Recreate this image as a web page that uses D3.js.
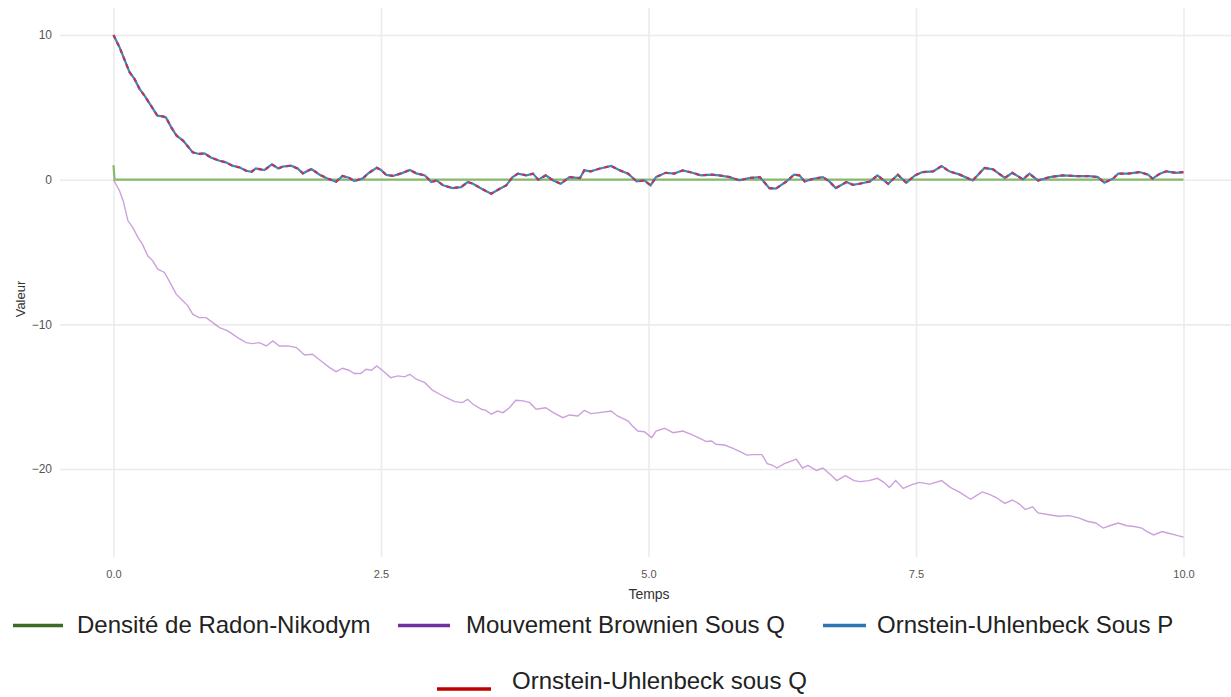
<!DOCTYPE html>
<html>
<head>
<meta charset="utf-8">
<script src="https://cdn.jsdelivr.net/npm/d3@7"></script>
<style>
  body { margin: 0; background: #fff; }
  svg { display: block; }
</style>
</head>
<body>
<div id="chart-container"></div>
<script>
// values, [temps, valeur]
var densityPoints = [[0, 1.0], [0.01, 0.0], [10, 0.0]];

var brownianPoints = [
  [0, 0], [0.056, -0.76], [0.09, -1.45], [0.135, -2.84], [0.18, -3.30], [0.228, -3.99], [0.27, -4.45],
  [0.32, -5.26], [0.367, -5.61], [0.414, -6.18], [0.476, -6.41], [0.52, -6.99], [0.586, -7.91], [0.648, -8.37],
  [0.695, -8.72], [0.74, -9.29], [0.80, -9.53], [0.866, -9.53], [0.928, -9.88], [0.99, -10.22], [1.068, -10.45],
  [1.16, -10.91], [1.24, -11.26], [1.30, -11.33], [1.365, -11.26], [1.427, -11.49], [1.49, -11.14], [1.55, -11.49],
  [1.63, -11.49], [1.71, -11.60], [1.785, -12.12], [1.86, -12.06], [1.94, -12.53], [2.02, -12.99], [2.08, -13.27],
  [2.14, -13.03], [2.20, -13.17], [2.25, -13.40], [2.31, -13.40], [2.36, -13.10], [2.41, -13.17], [2.46, -12.87],
  [2.52, -13.22], [2.59, -13.68], [2.66, -13.56], [2.72, -13.63], [2.77, -13.45], [2.83, -13.79], [2.91, -14.03],
  [2.98, -14.55], [3.05, -14.83], [3.11, -15.07], [3.19, -15.34], [3.26, -15.41], [3.31, -15.18], [3.36, -15.52],
  [3.44, -15.87], [3.48, -15.94], [3.53, -16.21], [3.59, -15.99], [3.64, -16.10], [3.70, -15.76], [3.76, -15.25],
  [3.83, -15.29], [3.89, -15.41], [3.95, -15.87], [4.04, -15.76], [4.11, -16.10], [4.20, -16.45], [4.26, -16.26],
  [4.34, -16.33], [4.40, -15.94], [4.46, -16.17], [4.54, -16.10], [4.65, -15.99], [4.71, -16.33], [4.81, -16.68],
  [4.85, -17.02], [4.90, -17.37], [4.96, -17.42], [5.03, -17.83], [5.07, -17.37], [5.15, -17.18], [5.23, -17.49],
  [5.32, -17.37], [5.40, -17.60], [5.48, -17.88], [5.54, -18.10], [5.59, -18.06], [5.63, -18.29], [5.71, -18.34],
  [5.79, -18.57], [5.86, -18.81], [5.92, -19.04], [5.98, -19.00], [6.06, -19.00], [6.11, -19.63], [6.16, -19.74],
  [6.20, -19.93], [6.27, -19.63], [6.31, -19.52], [6.38, -19.32], [6.44, -19.93], [6.49, -19.74], [6.57, -20.10],
  [6.63, -19.93], [6.71, -20.45], [6.76, -20.80], [6.84, -20.45], [6.92, -20.80], [6.98, -20.87], [7.06, -20.80],
  [7.14, -20.64], [7.20, -20.92], [7.25, -21.27], [7.31, -20.80], [7.38, -21.34], [7.45, -21.11], [7.53, -20.92],
  [7.63, -21.04], [7.74, -20.80], [7.82, -21.27], [7.91, -21.62], [8.01, -22.09], [8.06, -21.85], [8.12, -21.58],
  [8.18, -21.74], [8.25, -21.97], [8.33, -22.37], [8.40, -22.14], [8.47, -22.44], [8.52, -22.80], [8.59, -22.61],
  [8.64, -23.03], [8.73, -23.14], [8.83, -23.26], [8.93, -23.22], [9.02, -23.38], [9.10, -23.61], [9.18, -23.73],
  [9.25, -24.08], [9.31, -23.92], [9.39, -23.73], [9.47, -23.92], [9.54, -23.97], [9.61, -24.08], [9.66, -24.32],
  [9.72, -24.55], [9.80, -24.32], [9.86, -24.44], [9.92, -24.55], [10.0, -24.71]
];

var ouPPoints = [
  [0, 10.0], [0.056, 9.16], [0.10, 8.35], [0.15, 7.43], [0.196, 6.97], [0.243, 6.28], [0.29, 5.81], [0.35, 5.12],
  [0.41, 4.43], [0.46, 4.38], [0.49, 4.31], [0.54, 3.62], [0.59, 3.04], [0.65, 2.70], [0.69, 2.35], [0.74, 1.89],
  [0.80, 1.78], [0.85, 1.82], [0.91, 1.54], [0.99, 1.31], [1.05, 1.20], [1.11, 0.97], [1.18, 0.85], [1.24, 0.62],
  [1.29, 0.55], [1.33, 0.78], [1.41, 0.67], [1.48, 1.06], [1.54, 0.78], [1.58, 0.90], [1.66, 0.97], [1.72, 0.78],
  [1.77, 0.44], [1.85, 0.74], [1.93, 0.33], [2.00, 0.09], [2.08, -0.14], [2.14, 0.26], [2.20, 0.14], [2.25, -0.09],
  [2.33, 0.09], [2.38, 0.44], [2.46, 0.83], [2.50, 0.67], [2.55, 0.33], [2.61, 0.26], [2.69, 0.44], [2.77, 0.67],
  [2.83, 0.44], [2.91, 0.30], [2.97, -0.16], [3.02, -0.05], [3.08, -0.39], [3.17, -0.58], [3.25, -0.51], [3.31, -0.16],
  [3.36, -0.28], [3.44, -0.62], [3.53, -0.97], [3.61, -0.62], [3.67, -0.39], [3.73, 0.18], [3.78, 0.42], [3.86, 0.30],
  [3.92, 0.42], [3.97, 0.00], [4.04, 0.30], [4.11, -0.05], [4.18, -0.28], [4.26, 0.18], [4.36, 0.12], [4.40, 0.65],
  [4.46, 0.58], [4.54, 0.76], [4.65, 0.95], [4.73, 0.65], [4.81, 0.42], [4.89, -0.12], [4.96, -0.05], [5.02, -0.39],
  [5.07, 0.18], [5.16, 0.48], [5.24, 0.42], [5.32, 0.65], [5.41, 0.48], [5.49, 0.30], [5.59, 0.35], [5.66, 0.30],
  [5.76, 0.18], [5.85, -0.05], [5.94, 0.12], [6.04, 0.18], [6.13, -0.58], [6.19, -0.62], [6.29, -0.12], [6.36, 0.35],
  [6.41, 0.30], [6.46, -0.12], [6.54, 0.07], [6.63, 0.18], [6.69, -0.12], [6.75, -0.58], [6.85, -0.16], [6.91, -0.35],
  [6.97, -0.28], [7.07, -0.12], [7.14, 0.30], [7.24, -0.28], [7.33, 0.35], [7.41, -0.21], [7.49, 0.30], [7.56, 0.53],
  [7.66, 0.58], [7.74, 0.95], [7.81, 0.58], [7.91, 0.35], [8.03, -0.05], [8.14, 0.81], [8.22, 0.72], [8.33, 0.12],
  [8.40, 0.48], [8.50, 0.02], [8.56, 0.42], [8.64, -0.05], [8.75, 0.18], [8.87, 0.30], [9.00, 0.25], [9.12, 0.25],
  [9.20, 0.18], [9.26, -0.21], [9.34, 0.07], [9.39, 0.42], [9.48, 0.42], [9.59, 0.53], [9.67, 0.35], [9.71, 0.07],
  [9.78, 0.42], [9.84, 0.58], [9.93, 0.48], [10.0, 0.53]
];
// under Q the path lies on top of the P path in the picture
var ouQPoints = ouPPoints.slice();

var xTicks = [0, 2.5, 5, 7.5, 10];
var yTicks = [-20, -10, 0, 10];

var legendNames = ["Densité de Radon-Nikodym", "Mouvement Brownien Sous Q", "Ornstein-Uhlenbeck Sous P", "Ornstein-Uhlenbeck sous Q"];
var legendColors = ["#3d6b26", "#7030a0", "#2e75b6", "#c00000"];

var svgWidth = 1231;
var svgHeight = 697;
var panel = { left: 60, right: 1237, top: 8, bottom: 557 };

var svg = d3.select("#chart-container").append("svg")
    .attr("width", svgWidth)
    .attr("height", svgHeight)
    .style("font-family", "'Liberation Sans', Arial, sans-serif");

var xScale = d3.scaleLinear().domain([-0.5, 10.5]).range([panel.left, panel.right]);
var yScale = d3.scaleLinear().domain([-26.08, 11.87]).range([panel.bottom, panel.top]);

// grid + tick labels
var xAxis = svg.append("g")
    .attr("transform", "translate(0," + panel.bottom + ")")
    .call(d3.axisBottom(xScale).tickValues(xTicks).tickFormat(d3.format(".1f"))
        .tickSize(-(panel.bottom - panel.top)).tickPadding(13));
xAxis.select(".domain").remove();
xAxis.selectAll("line").attr("stroke", "#ebebeb").attr("stroke-width", 1.6);
xAxis.selectAll("text").attr("fill", "#555").style("font-size", "11px");

var yAxis = svg.append("g")
    .attr("transform", "translate(" + panel.left + ",0)")
    .call(d3.axisLeft(yScale).tickValues(yTicks)
        .tickSize(-(svgWidth - panel.left)).tickPadding(8));
yAxis.select(".domain").remove();
yAxis.selectAll("line").attr("stroke", "#ebebeb").attr("stroke-width", 1.6);
yAxis.selectAll("text").attr("fill", "#555").style("font-size", "12px");

var line = d3.line()
    .x(d => xScale(d[0]))
    .y(d => yScale(d[1]));

svg.append("path")
    .datum(densityPoints)
    .attr("fill", "none")
    .attr("stroke", "#86b96c")
    .attr("stroke-width", 2.2)
    .attr("d", line);

svg.append("path")
    .datum(brownianPoints)
    .attr("fill", "none")
    .attr("stroke", "#b982d2")
    .attr("stroke-opacity", 0.75)
    .attr("stroke-width", 1.4)
    .attr("d", line);

svg.append("path")
    .datum(ouPPoints)
    .attr("fill", "none")
    .attr("stroke", "#3b87c4")
    .attr("stroke-width", 2.2)
    .attr("d", line);

svg.append("path")
    .datum(ouQPoints)
    .attr("fill", "none")
    .attr("stroke", "#c4334f")
    .attr("stroke-width", 2.2)
    .attr("stroke-dasharray", "4,4")
    .attr("d", line);

// axis titles
svg.append("text")
    .attr("x", 649)
    .attr("y", 599)
    .attr("text-anchor", "middle")
    .attr("fill", "#333")
    .style("font-size", "14px")
    .text("Temps");

svg.append("text")
    .attr("transform", "translate(25,299) rotate(-90)")
    .attr("text-anchor", "middle")
    .attr("fill", "#333")
    .style("font-size", "13px")
    .text("Valeur");

// legend
var legendPos = [
    { x1: 13, x2: 63, ly: 625.5, tx: 77, ty: 633 },
    { x1: 398, x2: 450, ly: 625.5, tx: 466, ty: 633 },
    { x1: 823, x2: 866, ly: 625.5, tx: 877, ty: 633 },
    { x1: 437, x2: 491, ly: 689, tx: 512, ty: 689 }
];

var legend = svg.append("g");
legendNames.forEach(function (name, i) {
    var p = legendPos[i];
    legend.append("line")
        .attr("x1", p.x1).attr("x2", p.x2)
        .attr("y1", p.ly).attr("y2", p.ly)
        .attr("stroke", legendColors[i])
        .attr("stroke-width", 3.5);
    legend.append("text")
        .attr("x", p.tx)
        .attr("y", p.ty)
        .attr("fill", "#222")
        .style("font-size", "24px")
        .text(name);
});
</script>
</body>
</html>
